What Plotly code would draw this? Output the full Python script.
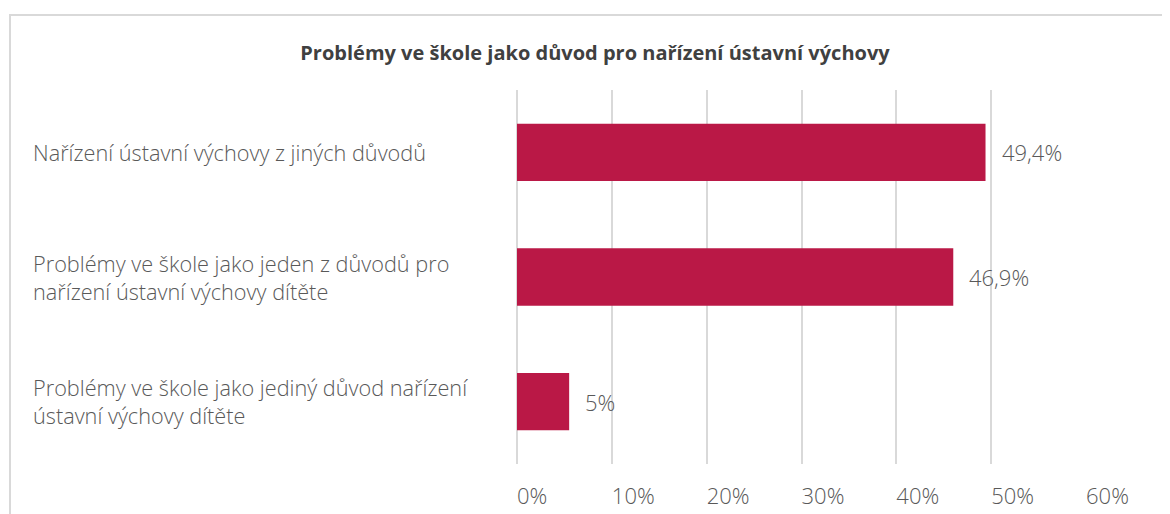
# Problémy ve škole jako důvod pro nařízení ústavní výchovy
import plotly.graph_objects as go

# ----------------------------------------------------------------------------------------------------------------------
# Data
# ----------------------------------------------------------------------------------------------------------------------
categories = [
    "Nařízení ústavní výchovy z jiných důvodů",
    "Problémy ve škole jako jeden z důvodů pro<br>nařízení ústavní výchovy dítěte",
    "Problémy ve škole jako jediný důvod nařízení<br>ústavní výchovy dítěte",
]
values = [49.4, 46.0, 5.5]
value_labels = ["49,4%", "46,9%", "5%"]
tick_vals = [0, 10, 20, 30, 40, 50, 60]
tick_text = ["0%", "10%", "20%", "30%", "40%", "50%", "60%"]

# ----------------------------------------------------------------------------------------------------------------------
# Layout constants (page has an 8px body offset)
# ----------------------------------------------------------------------------------------------------------------------
W, H = 1170, 514
M_L, M_R, M_T, M_B = 509, 91, 82, 58
PLOT_W = W - M_L - M_R
PLOT_H = H - M_T - M_B
BAR_COLOR = "#BA1846"
TEXT_COLOR = "#595959"
GRID_COLOR = "#D9D9D9"
FONT = "Open Sans"

fig = go.Figure()
fig.add_trace(go.Bar(x=values, y=categories, orientation="h",
                     marker=dict(color=BAR_COLOR, line_width=0),
                     hoverinfo="skip"))

# value labels right of bars
for cat, val, lab in zip(categories, values, value_labels):
    fig.add_annotation(x=val, y=cat, xref="x", yref="y", text=lab, showarrow=False,
                       xanchor="left", yanchor="middle", xshift=14,
                       font=dict(family=FONT, size=22, weight=300, color=TEXT_COLOR))

# category labels, left aligned
for cat in categories:
    fig.add_annotation(x=-(M_L - 23) / PLOT_W, y=cat, xref="paper", yref="y", text=cat,
                       showarrow=False, xanchor="left", yanchor="middle", align="left",
                       font=dict(family=FONT, size=21.7, weight=300, color=TEXT_COLOR))

# outer frame of the chart
fig.add_shape(type="rect", xref="paper", yref="paper",
              x0=-(M_L - 2) / PLOT_W, x1=1.3,
              y0=-0.3, y1=1 + (M_T - 7) / PLOT_H,
              line=dict(color=GRID_COLOR, width=2), fillcolor="rgba(0,0,0,0)", layer="below")

fig.update_layout(
    width=W, height=H,
    margin=dict(l=M_L, r=M_R, t=M_T, b=M_B),
    paper_bgcolor="white", plot_bgcolor="white",
    bargap=0.54,
    showlegend=False,
    title=dict(text="<b>Problémy ve škole jako důvod pro nařízení ústavní výchovy</b>",
               xref="container", x=587 / W, xanchor="center",
               yref="container", y=1 - 45 / H, yanchor="middle",
               font=dict(family="Open Sans", size=20, color="#404040")),
)

fig.update_xaxes(range=[0, 60.1], tickvals=tick_vals, ticktext=tick_text,
                 showgrid=True, gridcolor=GRID_COLOR, gridwidth=1.5,
                 zeroline=True, zerolinecolor=GRID_COLOR, zerolinewidth=1.5,
                 showline=False, ticks="",
                 ticklabelposition="outside right", ticklabelstandoff=17,
                 tickfont=dict(family=FONT, size=22, weight=300, color=TEXT_COLOR))
fig.update_yaxes(autorange="reversed", showticklabels=False, showgrid=False,
                 zeroline=False, showline=False, ticks="")

fig.write_html("out.html")
